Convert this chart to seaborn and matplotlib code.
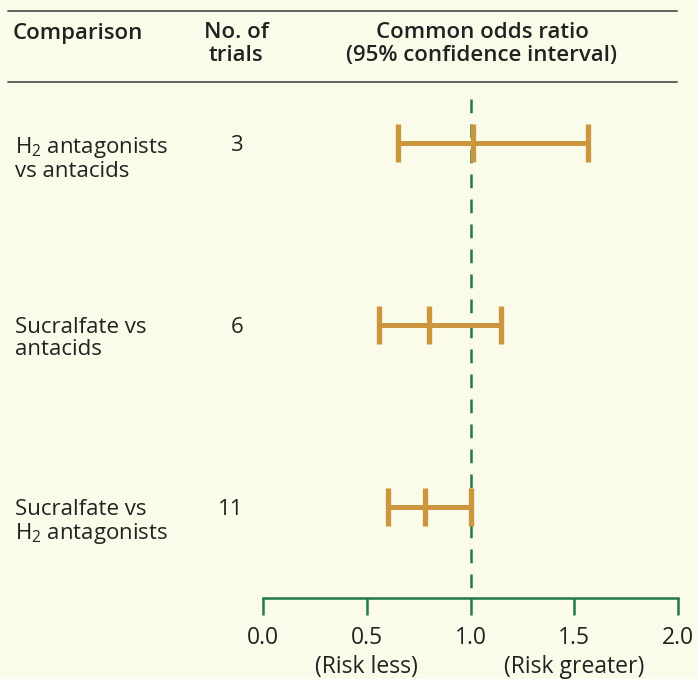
import matplotlib
matplotlib.use("Agg")
import matplotlib.pyplot as plt
import matplotlib.transforms as mtransforms
from matplotlib.lines import Line2D
import seaborn as sns
import pandas as pd

# values
comparisons = ["H$_2$ antagonists\nvs antacids",
               "Sucralfate vs\nantacids",
               "Sucralfate vs\nH$_2$ antagonists"]
n_trials = ["3", "6", "11"]
ci_low = [0.65, 0.56, 0.60]
odds_ratio = [1.01, 0.80, 0.78]
ci_high = [1.565, 1.145, 1.00]
x_ticks = [0.0, 0.5, 1.0, 1.5, 2.0]
x_notes = {0.5: "(Risk less)", 1.5: "(Risk greater)"}

bg = "#fbfbea"
bar_col = "#cc963f"
green = "#1e7b47"
ink = "#222222"
fs = 16.5

sns.set_style("white")
plt.rcParams["font.family"] = ["Open Sans", "DejaVu Sans"]
plt.rcParams["mathtext.fontset"] = "custom"
plt.rcParams["mathtext.rm"] = "Open Sans"
plt.rcParams["mathtext.default"] = "regular"

rows = []
for i, name in enumerate(comparisons):
    for kind, v in zip(["low", "mid", "high"], [ci_low[i], odds_ratio[i], ci_high[i]]):
        rows.append({"comparison": name, "row": i, "kind": kind, "value": v})
df = pd.DataFrame(rows)

fig = plt.figure(figsize=(6.97, 6.79), dpi=100, facecolor=bg)
W, H = 697, 679
ax = fig.add_axes([263 / W, (H - 598) / H, (678 - 263) / W, (598 - 82) / H])
ax.set_facecolor(bg)

# reference line at 1.0
ax.plot([1.0, 1.0], [-0.24, 2.5], color=green, lw=1.8, ls=(0, (5.5, 4.5)), zorder=1)

sns.lineplot(data=df, x="value", y="row", units="comparison", estimator=None,
             sort=False, color=bar_col, lw=3.6, ax=ax, zorder=2)
sns.scatterplot(data=df, x="value", y="row", marker="|", s=740, linewidth=3.8,
                color=bar_col, ax=ax, zorder=3, legend=False)

ax.set_xlim(0, 2)
ax.set_ylim(2.5, -0.335)
ax.set_xticks(x_ticks)
ax.set_xticklabels([f"{t:.1f}" for t in x_ticks])
ax.set_yticks([])
ax.set_xlabel("")
ax.set_ylabel("")
for s in ["left", "top", "right"]:
    ax.spines[s].set_visible(False)
ax.spines["bottom"].set_color(green)
ax.spines["bottom"].set_linewidth(1.8)
ax.spines["bottom"].set_bounds(0, 2)
ax.tick_params(axis="x", direction="out", length=12, width=1.8, color=green,
               labelcolor=ink, labelsize=fs, pad=8, bottom=True)

lab_tr = mtransforms.blended_transform_factory(fig.transFigure, ax.transData)
for i, name in enumerate(comparisons):
    ax.text(15 / W, i - 0.045, name, transform=lab_tr, ha="left", va="top",
            fontsize=16, color=ink, linespacing=1.08)
    ax.text(243 / W, i - 0.045, n_trials[i], transform=lab_tr, ha="right", va="top",
            fontsize=16, color=ink)

note_tr = mtransforms.blended_transform_factory(ax.transData, fig.transFigure)
for xv, txt in x_notes.items():
    ax.text(xv, 1 - 667 / H, txt, transform=note_tr, ha="center", va="center",
            fontsize=fs, color=ink)

# header
fig.text(13 / W, 1 - 34 / H, "Comparison", ha="left", va="center",
         fontsize=16, fontweight="semibold", color=ink)
fig.text(236 / W, 1 - 22 / H, "No. of\ntrials", ha="center", va="top",
         fontsize=16, fontweight="semibold", color=ink, linespacing=1.1)
fig.text(482 / W, 1 - 22 / H, "Common odds ratio\n(95% confidence interval)",
         ha="center", va="top", fontsize=16, fontweight="semibold", color=ink,
         linespacing=1.1)
for yy in [11, 82]:
    fig.add_artist(Line2D([8 / W, 677 / W], [1 - yy / H, 1 - yy / H],
                          color="#555555", lw=1.3))

fig.savefig("out.png", dpi=100, facecolor=bg)
